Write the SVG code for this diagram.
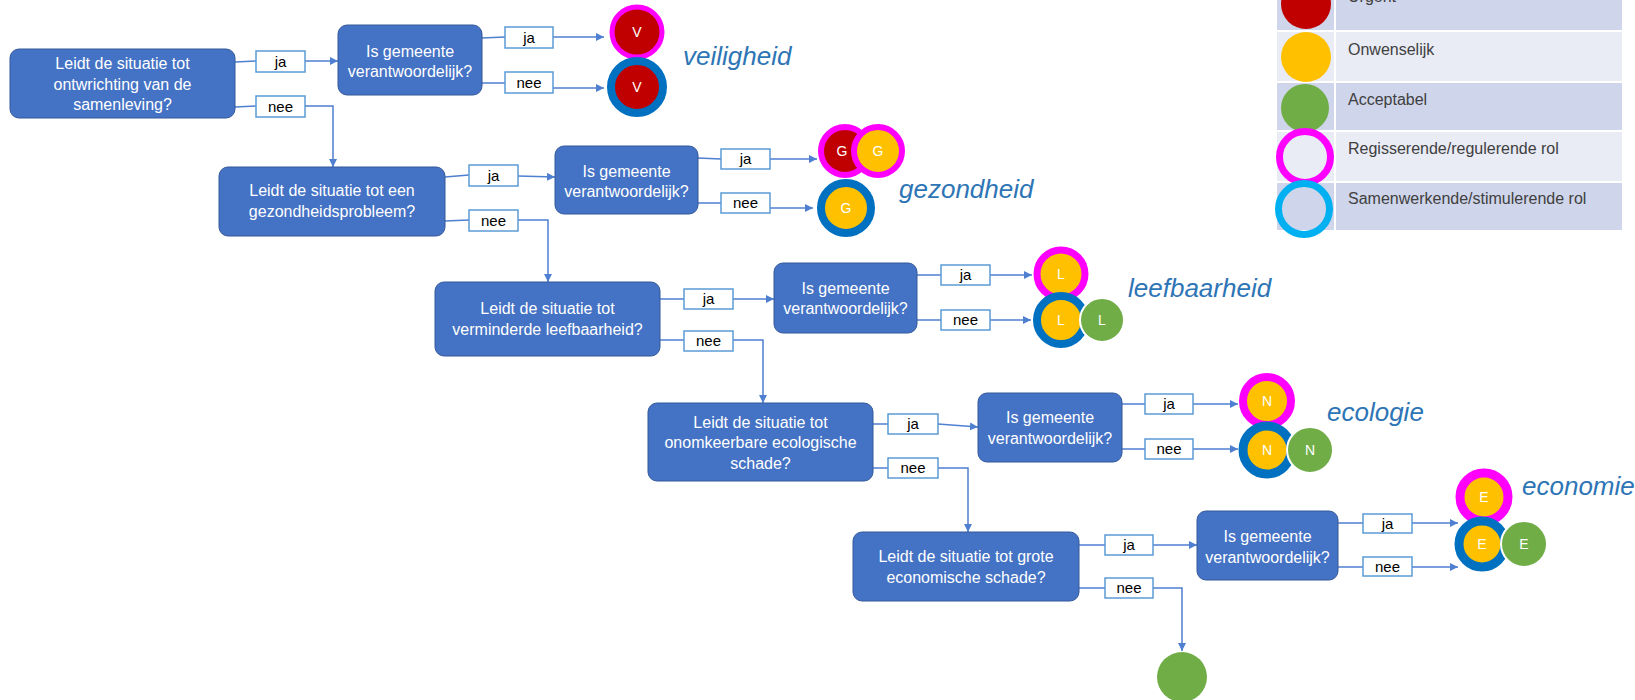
<svg xmlns="http://www.w3.org/2000/svg" width="1635" height="700" viewBox="0 0 1635 700">
<defs>
<marker id="arr" viewBox="0 0 10 10" refX="10" refY="5" markerWidth="8" markerHeight="8" markerUnits="userSpaceOnUse" orient="auto"><path d="M0,0 L10,5 L0,10 z" fill="#4f7fd0"/></marker>
<style>
.box{fill:#4472c4;stroke:#34599b;stroke-width:1}
.bt{font-family:"Liberation Sans",Arial,sans-serif;font-size:16px;fill:#ffffff;text-anchor:middle}
.lbl{fill:#ffffff;stroke:#5b9bd5;stroke-width:1.5}
.lt{font-family:"Liberation Sans",Arial,sans-serif;font-size:15px;fill:#000000;text-anchor:middle}
.conn{stroke:#4f7fd0;stroke-width:1.5;fill:none}
.ar{marker-end:url(#arr)}
.cat{font-family:"Liberation Sans",Arial,sans-serif;font-size:26px;font-style:italic;fill:#2e75b6}
.mag{stroke:#ff00ff}
.blu{stroke:#0070c0}
.red{fill:#c00000}
.yel{fill:#ffc000}
.grn{fill:#70ad47;stroke:#ffffff;stroke-width:2}
.ct{font-family:"Liberation Sans",Arial,sans-serif;font-size:14px;fill:#ffffff;text-anchor:middle}
.leg{font-family:"Liberation Sans",Arial,sans-serif;font-size:16px;fill:#404040}
.rd{fill:#cfd5ea}
.rl{fill:#e9ebf5}
</style>
</defs>
<rect width="1635" height="700" fill="#ffffff"/>

<g id="legend">
<rect class="rd" x="1277" y="-5" width="345" height="35"/>
<rect class="rl" x="1277" y="32" width="345" height="49"/>
<rect class="rd" x="1277" y="83" width="345" height="47"/>
<rect class="rl" x="1277" y="132" width="345" height="49"/>
<rect class="rd" x="1277" y="183" width="345" height="47"/>
<line x1="1335" y1="0" x2="1335" y2="230" stroke="#ffffff" stroke-width="2"/>
<circle cx="1306" cy="4" r="25" fill="#c00000"/>
<circle cx="1306" cy="57" r="25" fill="#ffc000"/>
<circle cx="1305" cy="108" r="24" fill="#70ad47"/>
<circle cx="1305" cy="157" r="25.5" fill="none" stroke="#ff00ff" stroke-width="7"/>
<circle cx="1304" cy="209" r="25.5" fill="none" stroke="#00b0f0" stroke-width="7"/>
<text class="leg" x="1348" y="2">Urgent</text>
<text class="leg" x="1348" y="55">Onwenselijk</text>
<text class="leg" x="1348" y="105">Acceptabel</text>
<text class="leg" x="1348" y="154">Regisserende/regulerende rol</text>
<text class="leg" x="1348" y="204">Samenwerkende/stimulerende rol</text>
</g>

<g id="connectors">
<line class="conn" x1="235" y1="62" x2="256" y2="61"/>
<line class="conn ar" x1="305" y1="61" x2="338" y2="61"/>
<line class="conn" x1="235" y1="107" x2="256" y2="106"/>
<polyline class="conn ar" points="305,106 333,106 333,167"/>
<line class="conn" x1="482" y1="38" x2="505" y2="37"/>
<line class="conn ar" x1="553" y1="37" x2="604" y2="37"/>
<line class="conn" x1="482" y1="83" x2="505" y2="83"/>
<line class="conn ar" x1="553" y1="88" x2="604" y2="88"/>

<line class="conn" x1="445" y1="177" x2="469" y2="175"/>
<line class="conn ar" x1="518" y1="176" x2="555" y2="177"/>
<line class="conn" x1="445" y1="221" x2="469" y2="220"/>
<polyline class="conn ar" points="518,220 548,220 548,282"/>
<line class="conn" x1="698" y1="158" x2="721" y2="159"/>
<line class="conn ar" x1="770" y1="159" x2="817" y2="159"/>
<line class="conn" x1="698" y1="203" x2="721" y2="203"/>
<line class="conn ar" x1="770" y1="208" x2="813" y2="208"/>

<line class="conn" x1="660" y1="299" x2="684" y2="299"/>
<line class="conn ar" x1="733" y1="299" x2="774" y2="299"/>
<line class="conn" x1="660" y1="340" x2="684" y2="340"/>
<polyline class="conn ar" points="733,340 763,340 763,403"/>
<line class="conn" x1="917" y1="275" x2="941" y2="275"/>
<line class="conn ar" x1="990" y1="275" x2="1032" y2="275"/>
<line class="conn" x1="917" y1="320" x2="941" y2="320"/>
<line class="conn ar" x1="990" y1="320" x2="1031" y2="320"/>

<line class="conn" x1="873" y1="424" x2="888" y2="424"/>
<line class="conn ar" x1="938" y1="424" x2="978" y2="427"/>
<line class="conn" x1="873" y1="468" x2="888" y2="468"/>
<polyline class="conn ar" points="938,468 968,468 968,532"/>
<line class="conn" x1="1122" y1="404" x2="1145" y2="404"/>
<line class="conn ar" x1="1193" y1="404" x2="1238" y2="404"/>
<line class="conn" x1="1122" y1="449" x2="1145" y2="449"/>
<line class="conn ar" x1="1193" y1="449" x2="1238" y2="449"/>

<line class="conn" x1="1079" y1="545" x2="1105" y2="545"/>
<line class="conn ar" x1="1153" y1="545" x2="1197" y2="545"/>
<line class="conn" x1="1079" y1="588" x2="1105" y2="588"/>
<polyline class="conn ar" points="1153,588 1182,588 1182,651"/>
<line class="conn" x1="1338" y1="523" x2="1363" y2="523"/>
<line class="conn ar" x1="1412" y1="523" x2="1458" y2="523"/>
<line class="conn" x1="1338" y1="567" x2="1363" y2="567"/>
<line class="conn ar" x1="1412" y1="567" x2="1458" y2="567"/>
</g>

<g id="labels">
<rect class="lbl" x="256" y="51" width="49" height="21"/><text class="lt" x="280.5" y="66.5">ja</text>
<rect class="lbl" x="256" y="96" width="49" height="21"/><text class="lt" x="280.5" y="111.5">nee</text>
<rect class="lbl" x="505" y="27" width="48" height="21"/><text class="lt" x="529" y="42.5">ja</text>
<rect class="lbl" x="505" y="72" width="48" height="21"/><text class="lt" x="529" y="87.5">nee</text>
<rect class="lbl" x="469" y="165" width="49" height="21"/><text class="lt" x="493.5" y="180.5">ja</text>
<rect class="lbl" x="469" y="210" width="49" height="21"/><text class="lt" x="493.5" y="225.5">nee</text>
<rect class="lbl" x="721" y="149" width="49" height="20"/><text class="lt" x="745.5" y="164">ja</text>
<rect class="lbl" x="721" y="193" width="49" height="20"/><text class="lt" x="745.5" y="208">nee</text>
<rect class="lbl" x="684" y="289" width="49" height="20"/><text class="lt" x="708.5" y="304">ja</text>
<rect class="lbl" x="684" y="331" width="49" height="20"/><text class="lt" x="708.5" y="346">nee</text>
<rect class="lbl" x="941" y="265" width="49" height="20"/><text class="lt" x="965.5" y="280">ja</text>
<rect class="lbl" x="941" y="310" width="49" height="20"/><text class="lt" x="965.5" y="325">nee</text>
<rect class="lbl" x="888" y="414" width="50" height="20"/><text class="lt" x="913" y="429">ja</text>
<rect class="lbl" x="888" y="458" width="50" height="20"/><text class="lt" x="913" y="473">nee</text>
<rect class="lbl" x="1145" y="394" width="48" height="20"/><text class="lt" x="1169" y="409">ja</text>
<rect class="lbl" x="1145" y="439" width="48" height="20"/><text class="lt" x="1169" y="454">nee</text>
<rect class="lbl" x="1105" y="535" width="48" height="20"/><text class="lt" x="1129" y="550">ja</text>
<rect class="lbl" x="1105" y="578" width="48" height="20"/><text class="lt" x="1129" y="593">nee</text>
<rect class="lbl" x="1363" y="514" width="49" height="19"/><text class="lt" x="1387.5" y="528.5">ja</text>
<rect class="lbl" x="1363" y="557" width="49" height="19"/><text class="lt" x="1387.5" y="571.5">nee</text>
</g>

<g id="q1"><rect class="box" x="10" y="49" width="225" height="69" rx="9"/>
<text class="bt" x="122.5" y="69">Leidt de situatie tot</text>
<text class="bt" x="122.5" y="90">ontwrichting van de</text>
<text class="bt" x="122.5" y="110">samenleving?</text></g>
<g id="g1"><rect class="box" x="338" y="25" width="144" height="70" rx="9"/>
<text class="bt" x="410" y="57">Is gemeente</text>
<text class="bt" x="410" y="77">verantwoordelijk?</text></g>

<g id="q2"><rect class="box" x="219" y="167" width="226" height="69" rx="9"/>
<text class="bt" x="332" y="196">Leidt de situatie tot een</text>
<text class="bt" x="332" y="217">gezondheidsprobleem?</text></g>
<g id="g2"><rect class="box" x="555" y="146" width="143" height="68" rx="9"/>
<text class="bt" x="626.5" y="177">Is gemeente</text>
<text class="bt" x="626.5" y="197">verantwoordelijk?</text></g>

<g id="q3"><rect class="box" x="435" y="282" width="225" height="74" rx="9"/>
<text class="bt" x="547.5" y="314">Leidt de situatie tot</text>
<text class="bt" x="547.5" y="335">verminderde leefbaarheid?</text></g>
<g id="g3"><rect class="box" x="774" y="263" width="143" height="70" rx="9"/>
<text class="bt" x="845.5" y="294">Is gemeente</text>
<text class="bt" x="845.5" y="314">verantwoordelijk?</text></g>

<g id="q4"><rect class="box" x="648" y="403" width="225" height="78" rx="9"/>
<text class="bt" x="760.5" y="428">Leidt de situatie tot</text>
<text class="bt" x="760.5" y="448">onomkeerbare ecologische</text>
<text class="bt" x="760.5" y="469">schade?</text></g>
<g id="g4"><rect class="box" x="978" y="393" width="144" height="69" rx="9"/>
<text class="bt" x="1050" y="423">Is gemeente</text>
<text class="bt" x="1050" y="444">verantwoordelijk?</text></g>

<g id="q5"><rect class="box" x="853" y="532" width="226" height="69" rx="9"/>
<text class="bt" x="966" y="562">Leidt de situatie tot grote</text>
<text class="bt" x="966" y="583">economische schade?</text></g>
<g id="g5"><rect class="box" x="1197" y="511" width="141" height="69" rx="9"/>
<text class="bt" x="1267.5" y="542">Is gemeente</text>
<text class="bt" x="1267.5" y="563">verantwoordelijk?</text></g>

<g id="veiligheid">
<circle class="red mag" cx="637" cy="32" r="25" stroke-width="5"/><text class="ct" x="637" y="37">V</text>
<circle class="red blu" cx="637" cy="87" r="26" stroke-width="8"/><text class="ct" x="637" y="92">V</text>
<text class="cat" x="683" y="65">veiligheid</text>
</g>
<g id="gezondheid">
<circle class="red mag" cx="845" cy="151" r="24" stroke-width="6"/><text class="ct" x="842" y="156">G</text>
<circle class="yel mag" cx="878" cy="151" r="24" stroke-width="6"/><text class="ct" x="878" y="156">G</text>
<circle class="yel blu" cx="846" cy="208" r="25" stroke-width="8"/><text class="ct" x="846" y="213">G</text>
<text class="cat" x="899" y="198">gezondheid</text>
</g>
<g id="leefbaarheid">
<circle class="yel mag" cx="1061" cy="274" r="24" stroke-width="7"/><text class="ct" x="1061" y="279">L</text>
<circle class="yel blu" cx="1061" cy="320" r="24" stroke-width="8"/><text class="ct" x="1061" y="325">L</text>
<circle class="grn" cx="1102" cy="320" r="22"/><text class="ct" x="1102" y="325">L</text>
<text class="cat" x="1128" y="297">leefbaarheid</text>
</g>
<g id="ecologie">
<circle class="yel mag" cx="1267" cy="401" r="24" stroke-width="8"/><text class="ct" x="1267" y="406">N</text>
<circle class="yel blu" cx="1267" cy="450" r="24" stroke-width="9"/><text class="ct" x="1267" y="455">N</text>
<circle class="grn" cx="1310" cy="450" r="23"/><text class="ct" x="1310" y="455">N</text>
<text class="cat" x="1327" y="421">ecologie</text>
</g>
<g id="economie">
<circle class="yel mag" cx="1484" cy="497" r="24" stroke-width="9"/><text class="ct" x="1484" y="502">E</text>
<circle class="yel blu" cx="1482" cy="544" r="23" stroke-width="9"/><text class="ct" x="1482" y="549">E</text>
<circle class="grn" cx="1524" cy="544" r="23"/><text class="ct" x="1524" y="549">E</text>
<text class="cat" x="1522" y="495">economie</text>
</g>
<g id="acceptabel">
<circle cx="1182" cy="677" r="25" fill="#70ad47"/>
</g>
</svg>
